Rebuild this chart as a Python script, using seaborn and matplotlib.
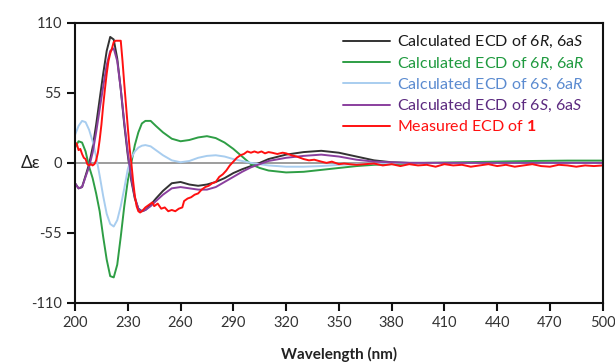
import numpy as np
import pandas as pd
import matplotlib
matplotlib.use("Agg")
import matplotlib.pyplot as plt
import seaborn as sns

# wavelength grid for the calculated spectra (nm)
wl_calc = [200, 202, 204, 206, 208, 210, 212, 214, 216, 218, 220, 222, 224, 226, 228,
           230, 232, 234, 236, 238, 240, 243, 246, 250, 255, 260, 265, 270, 275, 280,
           285, 290, 295, 300, 305, 310, 320, 330, 340, 350, 360, 370, 380, 390, 400,
           420, 440, 460, 480, 500]

# Calculated ECD of 6R, 6aS
calc_6R_6aS = [-16, -20, -19, -10, -1, 12, 30, 50, 70, 88, 99, 97, 82, 58, 30,
               6, -14, -28, -36, -38, -37, -33, -28, -22, -16, -15, -17, -18, -17, -15,
               -12, -8, -5, -2.5, 0, 3, 6.5, 8.5, 9.5, 8, 5, 2, 0.5, 0, 0,
               0, 0, 0, 0, 0]

# Calculated ECD of 6R, 6aR
calc_6R_6aR = [12, 17, 16, 9, -3, -12, -24, -38, -58, -76, -89, -90, -80, -58, -34,
               -14, 0, 14, 24, 31, 33, 33, 29, 24, 19, 17, 18, 20, 21, 19.5,
               16, 11, 5, -1, -4, -6, -7.5, -7, -5.5, -4, -2.5, -1.5, -1, -0.5, 0,
               0.5, 1, 1.5, 1.8, 1.8]

# Calculated ECD of 6S, 6aR
calc_6S_6aR = [22, 29, 33, 32, 26, 17, 5, -10, -26, -40, -48, -50, -45, -34, -20,
               -5, 4, 9, 12, 13.5, 14, 13, 10, 6, 2, 0.5, 1.5, 4, 5.5, 6,
               5, 3, 1.5, 0, -1, -2, -3, -3, -2.5, -1.5, -1, -0.5, 0, 0, 0,
               0, 0, 0, 0, 0]

# Calculated ECD of 6S, 6aS
calc_6S_6aS = [-16, -20, -19, -11, -3, 8, 24, 42, 60, 77, 88, 90, 80, 58, 32,
               8, -12, -27, -36, -38, -37, -34, -30, -25, -20, -19, -20, -21, -21, -19,
               -15, -11, -7, -3.5, -1, 1.5, 4, 5.5, 6.5, 5, 2.5, 1, 0.5, 0, 0,
               0, 0, 0, 0, 0]

# Measured ECD of 1
wl_meas = [200, 201, 202, 203, 204, 205, 206, 207, 208, 209, 210, 211, 212, 213, 214,
           215, 216, 217, 218, 219, 220, 221, 222, 223, 224, 225, 226, 227, 228, 229,
           230, 231, 232, 233, 234, 235, 236, 237, 238, 240, 242, 244, 245, 247, 249,
           251, 253, 255, 257, 259, 261, 262, 264, 266, 268, 270, 272, 274, 276, 278,
           280, 282, 284, 286, 288, 290, 292, 294, 296, 298, 300, 302, 304, 306, 308,
           310, 312, 315, 318, 320, 323, 326, 330, 333, 336, 340, 343, 346, 350, 353,
           356, 360, 365, 370, 375, 380, 385, 390, 395, 400, 405, 410, 415, 420, 425,
           430, 435, 440, 445, 450, 455, 460, 465, 470, 475, 480, 485, 490, 495, 500]
meas_1 = [16, 15, 10, 11, 7, 4, 3, -1, -2, -1, -2, -1, 2, 8, 18,
          30, 45, 58, 70, 80, 86, 90, 95, 96, 96, 96, 96, 80, 62, 45,
          28, 12, 0, -14, -26, -34, -38, -39, -38, -35, -33, -31, -34, -32, -36,
          -35, -38, -37, -38, -36, -35, -30, -28, -27, -25, -24, -21, -19, -18, -16,
          -15, -11, -9, -6, -2, 1, 4, 6, 7, 9, 8, 9, 8, 9, 7.5,
          8.5, 8, 7, 8, 7.5, 6, 5, 3, 2, 2.5, 1, 0, 1, -1, -0.5,
          -1, -1.5, -1, -0.5, -2, -1, -2.5, -1, -2, -1.5, -3, -1, -2, -1.5, -3,
          -2, -1, -2.5, -1.5, -3, -2, -1, -2.5, -3, -1.5, -2, -3, -2, -2.5, -2]

series = [
    ("Calculated ECD of 6$\\it{R}$, 6a$\\it{S}$", wl_calc, calc_6R_6aS, "#333333", "#1a1a1a"),
    ("Calculated ECD of 6$\\it{R}$, 6a$\\it{R}$", wl_calc, calc_6R_6aR, "#2e9e45", "#1f9a3f"),
    ("Calculated ECD of 6$\\it{S}$, 6a$\\it{R}$", wl_calc, calc_6S_6aR, "#a8cdef", "#5b8bd0"),
    ("Calculated ECD of 6$\\it{S}$, 6a$\\it{S}$", wl_calc, calc_6S_6aS, "#8a3f9e", "#5c2a80"),
    ("Measured ECD of $\\mathbf{1}$", wl_meas, meas_1, "#ff1010", "#ff1010"),
]

sns.set_style("ticks")
plt.rcParams['font.family'] = ['Lato', 'DejaVu Sans']
plt.rcParams['mathtext.fontset'] = 'custom'
plt.rcParams['mathtext.rm'] = 'Lato'
plt.rcParams['mathtext.it'] = 'Lato:italic'
plt.rcParams['mathtext.bf'] = 'Lato:bold'
plt.rcParams['axes.unicode_minus'] = False

fig, ax = plt.subplots(figsize=(6.15, 3.64), dpi=100)
fig.subplots_adjust(left=0.122, right=0.980, top=0.937, bottom=0.168)

ax.axhline(0, color="#8c8c8c", lw=1.2, zorder=1)

for label, x, y, c, tc in series:
    df = pd.DataFrame({"wl": x, "de": y})
    sns.lineplot(data=df, x="wl", y="de", ax=ax, color=c, lw=1.4,
                 label=label, sort=False, estimator=None)

ax.set_xlim(200, 500)
ax.set_ylim(-110, 110)
ax.set_xticks(np.arange(200, 501, 30))
ax.set_yticks([-110, -55, 0, 55, 110])
for s in ax.spines.values():
    s.set_linewidth(1.5)
    s.set_color("#111111")
ax.tick_params(axis="both", direction="out", length=6, width=1.5,
               labelsize=10.5, colors="#111111", labelcolor="#333333")

ax.set_xlabel("Wavelength (nm)", fontsize=11, fontweight="bold", color="#222222", labelpad=12)
ax.set_ylabel("Δε", fontsize=12.5, rotation=0, color="#222222", va="center", ha="center")
ax.yaxis.set_label_coords(-0.085, 0.5)

leg = ax.legend(loc="upper right", bbox_to_anchor=(0.965, 0.96), frameon=False,
                fontsize=11.5, handlelength=2.9, handletextpad=0.45,
                labelspacing=0.32, borderaxespad=0.0, borderpad=0.0)
for txt, (_, _, _, _, tc) in zip(leg.get_texts(), series):
    txt.set_color(tc)

fig.savefig("out.png", dpi=100)
